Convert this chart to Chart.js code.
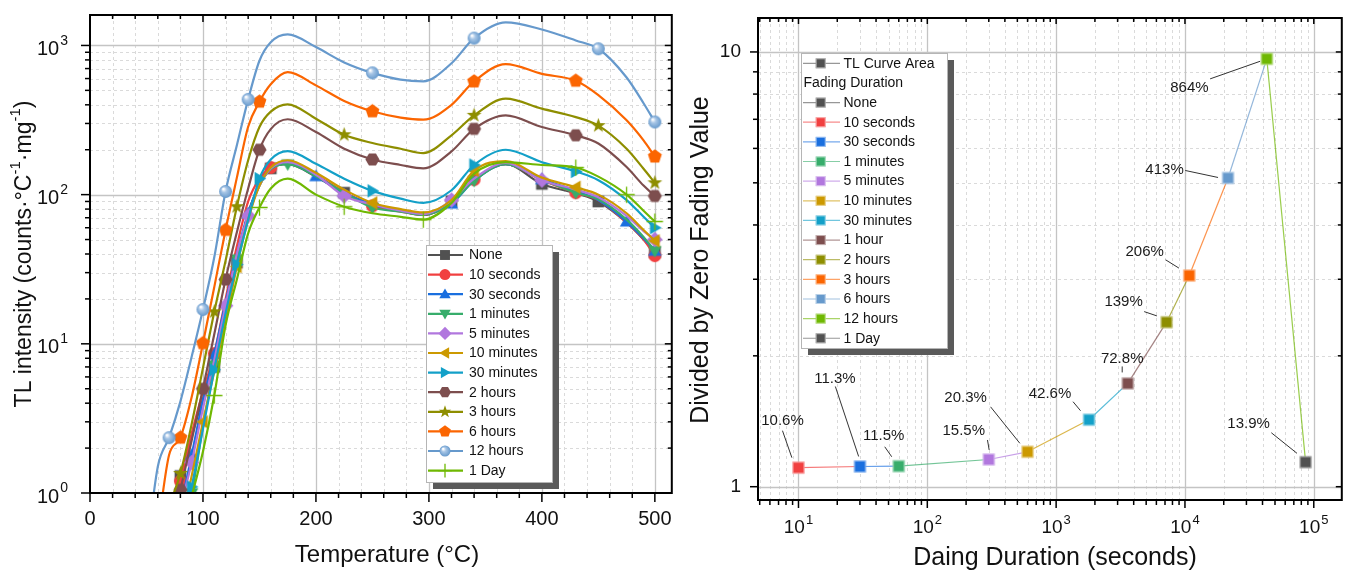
<!DOCTYPE html>
<html><head><meta charset="utf-8">
<script src="https://cdn.jsdelivr.net/npm/chart.js@4"></script>
<style>
html,body{margin:0;padding:0;background:#fff;overflow:hidden}
#wrap{position:relative;width:1349px;height:573px;background:#fff}
canvas{position:absolute;top:0}
#c1{left:0}
#c2{left:680px}
</style></head><body>
<div id="wrap"><canvas id="c1" width="680" height="573"></canvas><canvas id="c2" width="669" height="573"></canvas></div>
<script>
// ---------------- DATA ----------------
const TEMP_C = [50,60,70,80,90,100,110,120,130,140,150,160,175,200,225,250,275,295,320,340,368,400,430,450,475,490,500];
const TL_NONE  = [0.2,0.4,0.7,1.3,2.4,4.3,7.0,15,35,75,115,150,160,132,103,86,78,73,90,125,160,118,102,90,65,50,41];
const TL_10S   = [0.2,0.4,0.7,1.2,2.5,4.8,8.6,20,45,90,128,152,163,135,104,84,77,73,88,126,160,125,103,92,65,50,39];
const TL_30S   = [0.1,0.2,0.4,0.8,1.8,4.2,8.5,19,40,75,118,150,162,133,102,86,78,74,87,124,160,127,106,92,66,51,42];
const TL_1M    = [0.1,0.2,0.3,0.6,1.0,2.8,7.2,17,37,72,115,148,160,133,103,82,77,73,88,124,160,126,103,93,68,52,42];
const TL_5M    = [0.1,0.2,0.4,0.8,1.6,3.7,7.8,18,40,72,115,150,165,136,98,86,78,74,92,128,163,125,108,96,72,57,50];
const TL_10M   = [0.1,0.2,0.3,0.6,1.3,3.0,6.5,14,33,68,115,152,170,140,108,88,80,76,92,145,168,130,112,100,75,58,49];
const TL_30M   = [0.1,0.2,0.3,0.5,1.1,2.7,6.7,16,34,68,128,172,196,161,128,106,94,88,107,158,200,165,143,125,92,71,60];
const TL_2H    = [0.2,0.3,0.5,1.05,2.25,5.0,11.6,27,56,110,200,275,320,263,203,172,158,150,195,276,340,284,250,220,153,115,98];
const TL_3H    = [0.2,0.4,0.8,1.35,2.9,6.9,16.4,36,83,170,284,360,403,323,252,222,203,190,250,340,440,377,331,290,203,149,120];
const TL_6H    = [0.3,0.6,1.8,2.35,4.4,10.1,24,58,130,285,420,550,662,540,425,362,328,318,400,574,750,645,580,465,315,231,180];
const TL_12H   = [0.4,1.5,2.35,4.1,8.2,17,38,105,214,435,790,1050,1185,975,770,655,590,575,760,1120,1430,1280,1080,950,610,410,307];
const TL_1DAY  = [0.1,0.15,0.25,0.5,0.95,1.9,4.5,13.3,27,55,82,110,128,100,83,75,71,68,88,138,165,158,152,132,100,78,66];
const LEFT_NAMES = ['None','10 seconds','30 seconds','1 minutes','5 minutes','10 minutes','30 minutes','2 hours','3 hours','6 hours','12 hours','1 Day'];
const LEFT_X_TICKS = [0,100,200,300,400,500];
const LEFT_Y_TICKS = [1,10,100,1000];

const FADE_SECONDS = [10,30,60,300,600,1800,3600,7200,10800,21600,43200,86400];
const FADE_PERCENT = [10.6,11.3,11.5,15.5,20.3,42.6,72.8,139,206,413,864,13.9];
const FADE_NAMES = ['10 seconds','30 seconds','1 minutes','5 minutes','10 minutes','30 minutes','1 hour','2 hours','3 hours','6 hours','12 hours','1 Day'];
const RIGHT_X_TICKS = [10,100,1000,10000,100000];
const RIGHT_Y_TICKS = [1,10];

// ---------------- STYLE ----------------
const FONT = '"Liberation Sans", Arial, sans-serif';
const LEFT_STYLE = [
  {color:'#515151', shape:'square',  marks:[3,6,8,11,14,18,21,23,26]},
  {color:'#F14040', shape:'circle',  marks:[3,6,11,15,19,22,26]},
  {color:'#1A6FDF', shape:'up',      marks:[4,6,9,13,18,21,24,26]},
  {color:'#37AD6B', shape:'down',    marks:[4,6,8,12,15,19,22,26]},
  {color:'#B177DE', shape:'diamond', marks:[4,7,9,14,18,21,26]},
  {color:'#CC9900', shape:'left',    marks:[5,8,15,19,22,26]},
  {color:'#13A0C8', shape:'right',   marks:[4,6,8,10,15,19,22,26]},
  {color:'#7D4E4E', shape:'hexagon', marks:[3,5,7,10,15,19,22,26]},
  {color:'#8E8E00', shape:'star',    marks:[3,6,8,14,19,23,26]},
  {color:'#FB6501', shape:'pentagon',marks:[3,5,7,10,15,19,22,26]},
  {color:'#6699CC', shape:'ball',    marks:[2,5,7,9,15,19,23,26]},
  {color:'#6FB802', shape:'plus',    marks:[6,10,14,17,22,24,26]}
];
const FADE_COLORS = ['#F14040','#1A6FDF','#37AD6B','#B177DE','#CC9900','#13A0C8','#7D4E4E','#8E8E00','#FB6501','#6699CC','#6FB802','#515151'];
// label offsets relative to point: [textX, textY, leadX1, leadY1, leadX2, leadY2]
const LABEL_POS = [
  [-16,-47,-16,-37,-6.6,-10],
  [-25,-88,-24.6,-80,-1.3,-10],
  [-15,-30,-14,-19.4,-7,-9.4],
  [-25,-29,-1.3,-19.5,0.4,-9.5],
  [-62,-53.5,-37,-45,-7.7,-8.5],
  [-39,-26,-16,-18,-8.5,-9],
  [-5.6,-25,-5.6,-17,-5.6,-11],
  [-43,-20,-22.4,-10.6,-9.7,-6.3],
  [-44.6,-23.4,-23.6,-15.7,-10.3,-7.4],
  [-63.5,-8,-42.8,-7.5,-10,-0.5],
  [-77.4,29,-56.7,20,-6.7,2.4],
  [-57,-38,-34.3,-29.4,-8.6,-8.8]
];

function tint(hex, a){const n=parseInt(hex.slice(1),16);return `rgba(${n>>16},${(n>>8)&255},${n&255},${a})`;}
function poly(g,cx,cy,R,n,start){g.beginPath();for(let k=0;k<n;k++){const an=(start+k*360/n)*Math.PI/180;const px=cx+R*Math.cos(an),py=cy+R*Math.sin(an);k?g.lineTo(px,py):g.moveTo(px,py);}g.closePath();}
function drawMarker(g, shape, color, x, y, s){
  const r=s/2; g.save(); g.fillStyle=color; g.strokeStyle=color; g.lineWidth=1;
  switch(shape){
    case 'square': g.beginPath(); g.rect(x-r*0.9,y-r*0.9,r*1.8,r*1.8); g.fill(); break;
    case 'sq': g.beginPath(); g.rect(x-r,y-r,2*r,2*r); g.fill(); g.strokeStyle='rgba(255,255,255,0.55)'; g.lineWidth=1; g.strokeRect(x-r+0.5,y-r+0.5,2*r-1,2*r-1); break;
    case 'circle': g.beginPath(); g.arc(x,y,r,0,Math.PI*2); g.fill(); break;
    case 'up': poly(g,x,y+r*0.15,r*1.2,3,-90); g.fill(); break;
    case 'down': poly(g,x,y-r*0.15,r*1.2,3,90); g.fill(); break;
    case 'left': poly(g,x+r*0.15,y,r*1.2,3,180); g.fill(); break;
    case 'right': poly(g,x-r*0.15,y,r*1.2,3,0); g.fill(); break;
    case 'diamond': poly(g,x,y,r*1.2,4,-90); g.fill(); break;
    case 'hexagon': poly(g,x,y,r*1.08,6,0); g.fill(); break;
    case 'pentagon': poly(g,x,y,r*1.12,5,-90); g.fill(); break;
    case 'star': {
      g.beginPath();
      for(let k=0;k<10;k++){const R=k%2?r*0.48:r*1.2;const an=(-90+k*36)*Math.PI/180;const px=x+R*Math.cos(an),py=y+R*Math.sin(an);k?g.lineTo(px,py):g.moveTo(px,py);}
      g.closePath(); g.fill(); break;}
    case 'ball': {
      const gr=g.createRadialGradient(x-r*0.35,y-r*0.4,r*0.1,x,y,r);
      gr.addColorStop(0,'#ffffff'); gr.addColorStop(0.35,'#a8c6e6'); gr.addColorStop(1,color);
      g.fillStyle=gr; g.beginPath(); g.arc(x,y,r,0,Math.PI*2); g.fill(); break;}
    case 'plus': {
      g.lineWidth=1.3; g.beginPath(); g.moveTo(x-r*1.25,y); g.lineTo(x+r*1.25,y); g.moveTo(x,y-r*1.25); g.lineTo(x,y+r*1.25); g.stroke(); break;}
  }
  g.restore();
}
function makeMarker(shape,color,s){const c=document.createElement('canvas');const S=Math.ceil(s*1.4)+2;c.width=S;c.height=S;drawMarker(c.getContext('2d'),shape,color,S/2,S/2,s);return c;}

function supText(ctx, base, exp, x, y, align, fs){
  ctx.font=`${fs}px ${FONT}`; const wb=ctx.measureText(base).width;
  const efs=Math.round(fs*0.68); ctx.font=`${efs}px ${FONT}`; const we=exp?ctx.measureText(exp).width+1:0;
  const tot=wb+we; const x0=align==='center'?x-tot/2:(align==='right'?x-tot:x);
  ctx.textAlign='left'; ctx.textBaseline='middle'; ctx.fillStyle='#111';
  ctx.font=`${fs}px ${FONT}`; ctx.fillText(base,x0,y);
  if(exp){ctx.font=`${efs}px ${FONT}`; ctx.fillText(exp,x0+wb+1,y-fs*0.42);}
}
function richText(ctx, parts, cx, cy, fs){
  const efs=Math.round(fs*0.65); let tot=0;
  parts.forEach(p=>{ctx.font=`${p.s?efs:fs}px ${FONT}`; p.w=ctx.measureText(p.t).width; tot+=p.w;});
  let x=cx-tot/2; ctx.textAlign='left'; ctx.textBaseline='middle'; ctx.fillStyle='#111';
  parts.forEach(p=>{ctx.font=`${p.s?efs:fs}px ${FONT}`; ctx.fillText(p.t,x,p.s?cy-fs*0.38:cy); x+=p.w;});
}
function line(ctx,x1,y1,x2,y2){ctx.beginPath();ctx.moveTo(x1,y1);ctx.lineTo(x2,y2);ctx.stroke();}

function logMinors(lo,hi){const out=[];for(let d=Math.floor(Math.log10(lo));d<=Math.ceil(Math.log10(hi));d++){for(let k=2;k<=9;k++){const v=k*Math.pow(10,d);if(v>lo&&v<hi)out.push(v);}}return out;}

function drawGrid(chart, xMaj, xMin, yMaj, yMin){
  const {ctx, chartArea:a, scales:{x,y}}=chart;
  ctx.save(); ctx.beginPath(); ctx.rect(a.left,a.top,a.right-a.left,a.bottom-a.top); ctx.clip();
  ctx.lineWidth=1; ctx.strokeStyle='#dadada'; ctx.setLineDash([3,3]);
  xMin.forEach(v=>{const p=Math.round(x.getPixelForValue(v))+0.5; line(ctx,p,a.top,p,a.bottom);});
  yMin.forEach(v=>{const p=Math.round(y.getPixelForValue(v))+0.5; line(ctx,a.left,p,a.right,p);});
  ctx.setLineDash([]); ctx.strokeStyle='#c4c4c4'; ctx.lineWidth=1.3;
  xMaj.forEach(v=>{const p=Math.round(x.getPixelForValue(v))+0.5; line(ctx,p,a.top,p,a.bottom);});
  yMaj.forEach(v=>{const p=Math.round(y.getPixelForValue(v))+0.5; line(ctx,a.left,p,a.right,p);});
  ctx.restore();
}
function drawFrameTicks(chart, xMaj, xMin, yMaj, yMin, L){
  const {ctx, chartArea:a, scales:{x,y}}=chart;
  ctx.save(); ctx.strokeStyle='#000';
  ctx.lineWidth=1.5;
  xMaj.forEach(v=>{const p=x.getPixelForValue(v); line(ctx,p,a.bottom,p,a.bottom+L.maj); line(ctx,p,a.top,p,a.top+L.maj-2);});
  xMin.forEach(v=>{const p=x.getPixelForValue(v); line(ctx,p,a.bottom,p,a.bottom+L.min); line(ctx,p,a.top,p,a.top+L.min-1);});
  yMaj.forEach(v=>{const p=y.getPixelForValue(v); line(ctx,a.left,p,a.left-L.maj,p); line(ctx,a.right,p,a.right-L.maj+2,p);});
  yMin.forEach(v=>{const p=y.getPixelForValue(v); line(ctx,a.left,p,a.left-L.min,p); line(ctx,a.right,p,a.right-L.min+1,p);});
  ctx.lineWidth=2; ctx.strokeRect(a.left,a.top,a.right-a.left,a.bottom-a.top);
  ctx.restore();
}
function legendBox(ctx,x1,y1,x2,y2){
  ctx.save(); ctx.fillStyle='#5a5a5a'; ctx.fillRect(x1+7,y1+7,x2-x1,y2-y1);
  ctx.fillStyle='#fff'; ctx.fillRect(x1,y1,x2-x1,y2-y1);
  ctx.strokeStyle='#b5b5b5'; ctx.lineWidth=1; ctx.strokeRect(x1+0.5,y1+0.5,x2-x1,y2-y1); ctx.restore();
}

// ---------------- LEFT CHART ----------------
const LEFT_DATA = [TL_NONE,TL_10S,TL_30S,TL_1M,TL_5M,TL_10M,TL_30M,TL_2H,TL_3H,TL_6H,TL_12H,TL_1DAY];
const leftX_minor = []; for(let t=20;t<515;t+=20){ if(t%100) leftX_minor.push(t); }
const leftY_minor = logMinors(1,1600);

const leftPlugin = {
  id:'leftDecor',
  beforeDatasetsDraw(chart){ drawGrid(chart, LEFT_X_TICKS.slice(1), leftX_minor, LEFT_Y_TICKS.slice(1), leftY_minor); },
  afterDraw(chart){
    const {ctx, chartArea:a, scales:{x,y}}=chart;
    drawFrameTicks(chart, LEFT_X_TICKS, leftX_minor, LEFT_Y_TICKS, leftY_minor, {maj:9,min:5});
    LEFT_X_TICKS.forEach(v=>supText(ctx,String(v),'',x.getPixelForValue(v),a.bottom+26,'center',20));
    LEFT_Y_TICKS.forEach(v=>supText(ctx,'10',String(Math.round(Math.log10(v))),a.left-22,y.getPixelForValue(v)+4,'right',20));
    richText(ctx,[{t:'Temperature (°C)'}],387,555,24);
    ctx.save(); ctx.translate(25,254); ctx.rotate(-Math.PI/2);
    richText(ctx,[{t:'TL intensity (counts·°C'},{t:'-1',s:1},{t:'·mg'},{t:'-1',s:1},{t:')'}],0,0,23);
    ctx.restore();
    // legend
    legendBox(ctx,426,245,552,482);
    LEFT_NAMES.forEach((n,i)=>{
      const yy=255+i*19.6, st=LEFT_STYLE[i];
      ctx.save(); ctx.strokeStyle=st.color; ctx.lineWidth=2.2; line(ctx,428,yy,463,yy); ctx.restore();
      drawMarker(ctx,st.shape,st.color,445,yy,11);
      ctx.fillStyle='#111'; ctx.font=`14px ${FONT}`; ctx.textAlign='left'; ctx.textBaseline='middle'; ctx.fillText(n,469,yy+0.5);
    });
  }
};

new Chart(document.getElementById('c1'),{
  type:'line',
  data:{datasets: LEFT_DATA.map((vals,i)=>{const st=LEFT_STYLE[i]; return {
    label: LEFT_NAMES[i],
    data: TEMP_C.map((t,k)=>({x:t,y:vals[k]})),
    borderColor: st.color, backgroundColor: st.color, borderWidth: 2.2,
    cubicInterpolationMode:'monotone', fill:false,
    pointStyle: makeMarker(st.shape, st.color, 13),
    pointRadius: ctx => st.marks.includes(ctx.dataIndex) ? 6 : 0,
    pointHoverRadius: 0,
    order: LEFT_DATA.length - i
  };})},
  options:{
    animation:false, responsive:false, events:[],
    layout:{padding:{top:15,right:3,left:0,bottom:0}},
    plugins:{legend:{display:false}, tooltip:{enabled:false}},
    scales:{
      x:{type:'linear',min:0,max:515,ticks:{display:false},grid:{display:false},border:{display:false},afterFit(s){s.height=80;}},
      y:{type:'logarithmic',min:1,max:1600,ticks:{display:false},grid:{display:false},border:{display:false},afterFit(s){s.width=90;}}
    }
  },
  plugins:[leftPlugin]
});

// ---------------- RIGHT CHART ----------------
const rightX_minor = logMinors(4.85,1.65e5);
const rightY_minor = logMinors(0.93,12);
const RATIO = FADE_PERCENT.map(p=>1+p/100);

const rightPlugin = {
  id:'rightDecor',
  beforeDatasetsDraw(chart){ drawGrid(chart, RIGHT_X_TICKS, rightX_minor, RIGHT_Y_TICKS, rightY_minor); },
  afterDraw(chart){
    const {ctx, chartArea:a, scales:{x,y}}=chart;
    drawFrameTicks(chart, RIGHT_X_TICKS, rightX_minor, RIGHT_Y_TICKS, rightY_minor, {maj:8,min:5});
    RIGHT_X_TICKS.forEach(v=>supText(ctx,'10',String(Math.round(Math.log10(v))),x.getPixelForValue(v),a.bottom+28,'center',19));
    RIGHT_Y_TICKS.forEach(v=>supText(ctx,String(v),'',a.left-17,y.getPixelForValue(v),'right',19));
    richText(ctx,[{t:'Daing Duration (seconds)'}],375,558,25);
    ctx.save(); ctx.translate(21,260); ctx.rotate(-Math.PI/2);
    richText(ctx,[{t:'Divided by Zero Fading Value'}],0,0,25);
    ctx.restore();
    // annotations
    ctx.save(); ctx.strokeStyle='#333'; ctx.lineWidth=1;
    FADE_SECONDS.forEach((s,i)=>{
      const px=x.getPixelForValue(s), py=y.getPixelForValue(RATIO[i]); const o=LABEL_POS[i];
      line(ctx,px+o[2],py+o[3],px+o[4],py+o[5]);
      const lab = (FADE_PERCENT[i]>=100?String(FADE_PERCENT[i]):FADE_PERCENT[i].toFixed(1))+'%';
      ctx.fillStyle='#1a1a1a'; ctx.font=`15px ${FONT}`; ctx.textAlign='center'; ctx.textBaseline='middle';
      ctx.fillText(lab,px+o[0],py+o[1]);
    });
    ctx.restore();
    // legend
    legendBox(ctx,121,53,267,348);
    const rows=[{n:'TL Curve Area',c:'#515151'},{n:'Fading Duration',h:1},{n:'None',c:'#515151'}].concat(FADE_NAMES.map((n,i)=>({n,c:FADE_COLORS[i]})));
    rows.forEach((r,i)=>{
      const yy=63.3+i*19.64;
      ctx.fillStyle='#111'; ctx.font=`14px ${FONT}`; ctx.textAlign='left'; ctx.textBaseline='middle';
      if(r.h){ctx.fillText(r.n,123.5,yy+0.5);return;}
      ctx.save(); ctx.strokeStyle=tint(r.c,0.6); ctx.lineWidth=1.2; line(ctx,123,yy,160,yy); ctx.restore();
      drawMarker(ctx,'sq',r.c,140.7,yy,10);
      ctx.fillStyle='#111'; ctx.fillText(r.n,163.5,yy+0.5);
    });
  }
};

new Chart(document.getElementById('c2'),{
  type:'line',
  data:{datasets:[{
    label:'TL Curve Area',
    data: FADE_SECONDS.map((s,i)=>({x:s,y:RATIO[i]})),
    borderWidth:1.2, tension:0, fill:false,
    borderColor:'#888',
    segment:{borderColor: c => tint(FADE_COLORS[c.p0DataIndex],0.7)},
    pointStyle: FADE_COLORS.map(c=>makeMarker('sq',c,12)),
    pointRadius:6, pointHoverRadius:0
  }]},
  options:{
    animation:false, responsive:false, events:[],
    layout:{padding:{top:18,right:1,left:0,bottom:0}},
    plugins:{legend:{display:false}, tooltip:{enabled:false}},
    scales:{
      x:{type:'logarithmic',min:4.85,max:1.65e5,ticks:{display:false},grid:{display:false},border:{display:false},afterFit(s){s.height=73;}},
      y:{type:'logarithmic',min:0.932,max:11.97,ticks:{display:false},grid:{display:false},border:{display:false},afterFit(s){s.width=78;}}
    }
  },
  plugins:[rightPlugin]
});
</script>
</body></html>
